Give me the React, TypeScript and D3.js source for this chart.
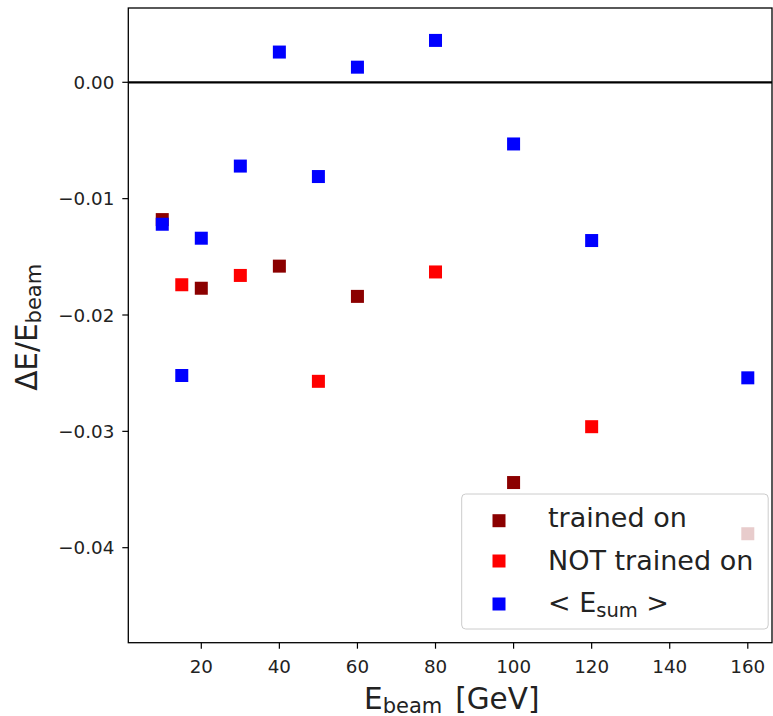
import React from "react";
import * as d3 from "d3";

const trainedE = [10, 20, 40, 60, 100, 160];
const trainedDE = [-0.0118, -0.0177, -0.0158, -0.0184, -0.0344, -0.0388];
const notTrainedE = [15, 30, 50, 80, 120];
const notTrainedDE = [-0.0174, -0.0166, -0.0257, -0.0163, -0.0296];
const esumE = [10, 15, 20, 30, 40, 50, 60, 80, 100, 120, 160];
const esumDE = [-0.0122, -0.0252, -0.0134, -0.0072, 0.0026, -0.0081, 0.0013, 0.0036, -0.0053, -0.0136, -0.0254];
const xTicks = [20, 40, 60, 80, 100, 120, 140, 160];
const yTicks = [0, -0.01, -0.02, -0.03, -0.04];

const W = 773;
const H = 716;
const L = 128.3, R = 772, T = 8, B = 642.7;
const FONT = "DejaVu Sans";

export default function App() {
  const x = d3.scaleLinear().domain([1.3, 166.2]).range([L, R]);
  const y = d3.scaleLinear().domain([-0.048165, 0.006386]).range([B, T]);
  const ms = 13;
  const series = [
    { name: "trained", xs: trainedE, ys: trainedDE, color: "#8b0000" },
    { name: "not", xs: notTrainedE, ys: notTrainedDE, color: "#ff0000" },
    { name: "esum", xs: esumE, ys: esumDE, color: "#0000ff" },
  ];
  const fmtY = (v: number) => (v < 0 ? "\u2212" : "") + Math.abs(v).toFixed(2);
  const legX = 461.7, legY = 494, legW = 306.5, legH = 135;
  const rows = [520.7, 561, 604];
  return (
    <svg width={W} height={H} style={{ position: "absolute", left: 0, top: 0, background: "#fff" }} fontFamily={FONT}>
      <rect x={0} y={0} width={W} height={H} fill="#fff" />
      <line x1={L} x2={R} y1={y(0)} y2={y(0)} stroke="#000" strokeWidth={2.2} />
      {series.map((s) =>
        s.xs.map((xv, i) => (
          <rect key={s.name + i} x={x(xv) - ms / 2} y={y(s.ys[i]) - ms / 2} width={ms} height={ms} fill={s.color} />
        ))
      )}
      {/* spines */}
      <rect x={L} y={T} width={R - L} height={B - T} fill="none" stroke="#000" strokeWidth={1.3} />
      {xTicks.map((t) => (
        <g key={"x" + t}>
          <line x1={x(t)} x2={x(t)} y1={B} y2={B + 6} stroke="#000" strokeWidth={1.2} />
          <text x={x(t)} y={B + 30.5} textAnchor="middle" fontSize={18.3} fill="#222">{t}</text>
        </g>
      ))}
      {yTicks.map((t) => (
        <g key={"y" + t}>
          <line x1={L - 6} x2={L} y1={y(t)} y2={y(t)} stroke="#000" strokeWidth={1.2} />
          <text x={L - 14} y={y(t) + 6.6} textAnchor="end" fontSize={18.3} fill="#222">{fmtY(t)}</text>
        </g>
      ))}
      {/* x label */}
      <text x={364} y={709} textAnchor="start" fontSize={29.5} fill="#222">
        E<tspan fontSize={21} dy={3.5}>beam</tspan><tspan dy={-3.5} dx={13}>[GeV]</tspan>
      </text>
      {/* y label */}
      <text transform={`translate(37,${(T + B) / 2 + 2}) rotate(-90)`} textAnchor="middle" fontSize={29.5} fill="#222">
        ΔE/E<tspan fontSize={21} dy={4}>beam</tspan>
      </text>
      {/* legend */}
      <rect x={legX} y={legY} width={legW} height={legH} rx={4} fill="#fff" fillOpacity={0.8} stroke="#cccccc" strokeWidth={1} />
      <rect x={499 - ms / 2} y={rows[0] - ms / 2} width={ms} height={ms} fill="#8b0000" />
      <rect x={499 - ms / 2} y={rows[1] - ms / 2} width={ms} height={ms} fill="#ff0000" />
      <rect x={499 - ms / 2} y={rows[2] - ms / 2} width={ms} height={ms} fill="#0000ff" />
      <text x={548} y={rows[0] + 6} fontSize={27} fill="#222">trained on</text>
      <text x={548} y={rows[1] + 9} fontSize={27} fill="#222">NOT trained on</text>
      <text x={548} y={rows[2] + 8} fontSize={27} fill="#222">
        {"< E"}<tspan fontSize={19.5} dy={4.5}>sum</tspan><tspan dy={-4.5}>{" >"}</tspan>
      </text>
    </svg>
  );
}
